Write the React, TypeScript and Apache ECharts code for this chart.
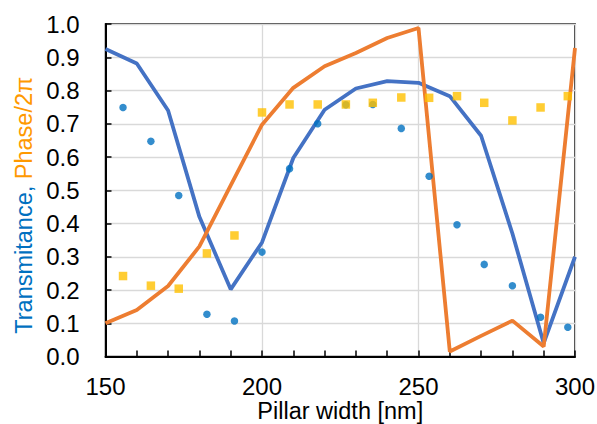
import React, { useEffect, useRef } from "react";
import * as echarts from "echarts";

const lineX = [150, 160, 170, 180, 190, 200, 210, 220, 230, 240, 250, 260, 270, 280, 290, 300];
const transmittanceLine = [0.925, 0.881, 0.74, 0.42, 0.202, 0.343, 0.597, 0.742, 0.806, 0.828, 0.823, 0.783, 0.664, 0.37, 0.04, 0.30];
const phaseLine = [0.10, 0.14, 0.212, 0.331, 0.515, 0.697, 0.808, 0.873, 0.913, 0.958, 0.988, 0.015, 0.062, 0.108, 0.03, 0.928];

const pointX = [155.6, 164.5, 173.4, 182.4, 191.2, 200, 208.8, 217.8, 226.8, 235.4, 244.5, 253.4, 262.3, 271, 280, 289, 297.7];
const transmittancePoints = [0.749, 0.647, 0.484, 0.127, 0.107, 0.314, 0.565, 0.7, 0.757, 0.758, 0.686, 0.542, 0.396, 0.277, 0.213, 0.118, 0.088];
const phasePoints = [0.242, 0.213, 0.204, 0.31, 0.364, 0.734, 0.758, 0.758, 0.758, 0.763, 0.779, 0.778, 0.783, 0.763, 0.71, 0.749, 0.783];

const FONT = "Liberation Sans, Arial, sans-serif";

export default function App() {
  const ref = useRef<HTMLDivElement>(null);
  useEffect(() => {
    if (!ref.current) return;
    const chart = echarts.init(ref.current, undefined, { renderer: "svg" });
    const zip = (xs: number[], ys: number[]) => xs.map((x, i) => [x, ys[i]]);
    chart.setOption({
      animation: false,
      grid: {
        left: 105.5,
        right: 22,
        top: 24,
        bottom: 67.5,
        outerBoundsMode: "none",
        containLabel: false,
        show: true,
        borderColor: "#000",
        borderWidth: 1.5,
      },
      xAxis: {
        type: "value",
        min: 150,
        max: 300,
        interval: 50,
        axisLine: { lineStyle: { color: "#000", width: 2 } },
        axisTick: { inside: true, length: 6, lineStyle: { color: "#000", width: 1.5 } },
        minorTick: { show: true, splitNumber: 5, length: 6, lineStyle: { color: "#000", width: 1.5 } },
        splitLine: { show: true, lineStyle: { color: "#D9D9D9", width: 1.3 } },
        axisLabel: { fontSize: 24, color: "#000", margin: 18, fontFamily: FONT },
        name: "Pillar width [nm]",
        nameLocation: "middle",
        nameGap: 42,
        nameMoveOverlap: false,
        nameTextStyle: { fontSize: 23.5, color: "#000", fontFamily: FONT, lineHeight: 24 },
      },
      yAxis: {
        type: "value",
        min: 0,
        max: 1,
        interval: 0.1,
        axisLine: { show: true, lineStyle: { color: "#000", width: 2 } },
        axisTick: { show: true, inside: true, length: 6, lineStyle: { color: "#000", width: 1.5 } },
        splitLine: { show: true, lineStyle: { color: "#D9D9D9", width: 1.3 } },
        axisLabel: {
          fontSize: 24,
          color: "#000",
          margin: 26,
          fontFamily: FONT,
          formatter: (v: number) => v.toFixed(1),
        },
        name: "{a|Transmitance,} {b|Phase/2π}",
        nameLocation: "middle",
        nameRotate: 90,
        nameGap: 70,
        nameMoveOverlap: false,
        nameTextStyle: {
          fontSize: 23.5,
          fontFamily: FONT,
          padding: [0, 30, 0, 0],
          rich: {
            a: { color: "#0070C0", fontSize: 23.5, fontFamily: FONT },
            b: { color: "#FF9900", fontSize: 23.5, fontFamily: FONT },
          },
        },
      },
      series: [
        {
          type: "line",
          data: zip(lineX, transmittanceLine),
          showSymbol: false,
          symbol: "none",
          lineStyle: { color: "#4472C4", width: 3.8 },
          itemStyle: { color: "#4472C4" },
          z: 2,
        },
        {
          type: "line",
          data: zip(lineX, phaseLine),
          showSymbol: false,
          symbol: "none",
          lineStyle: { color: "#ED7D31", width: 3.8 },
          itemStyle: { color: "#ED7D31" },
          z: 2,
        },
        {
          type: "scatter",
          data: zip(pointX, transmittancePoints),
          symbol: "circle",
          symbolSize: 7.5,
          itemStyle: { color: "#0070C0" },
          z: 3,
        },
        {
          type: "scatter",
          data: zip(pointX, phasePoints),
          symbol: "rect",
          symbolSize: 8.5,
          itemStyle: { color: "#FFC000" },
          z: 4,
        },
      ],
    });
    return () => chart.dispose();
  }, []);
  return (
    <div
      ref={ref}
      style={{ position: "fixed", left: 0, top: 0, width: 597, height: 424, background: "#fff" }}
    />
  );
}
